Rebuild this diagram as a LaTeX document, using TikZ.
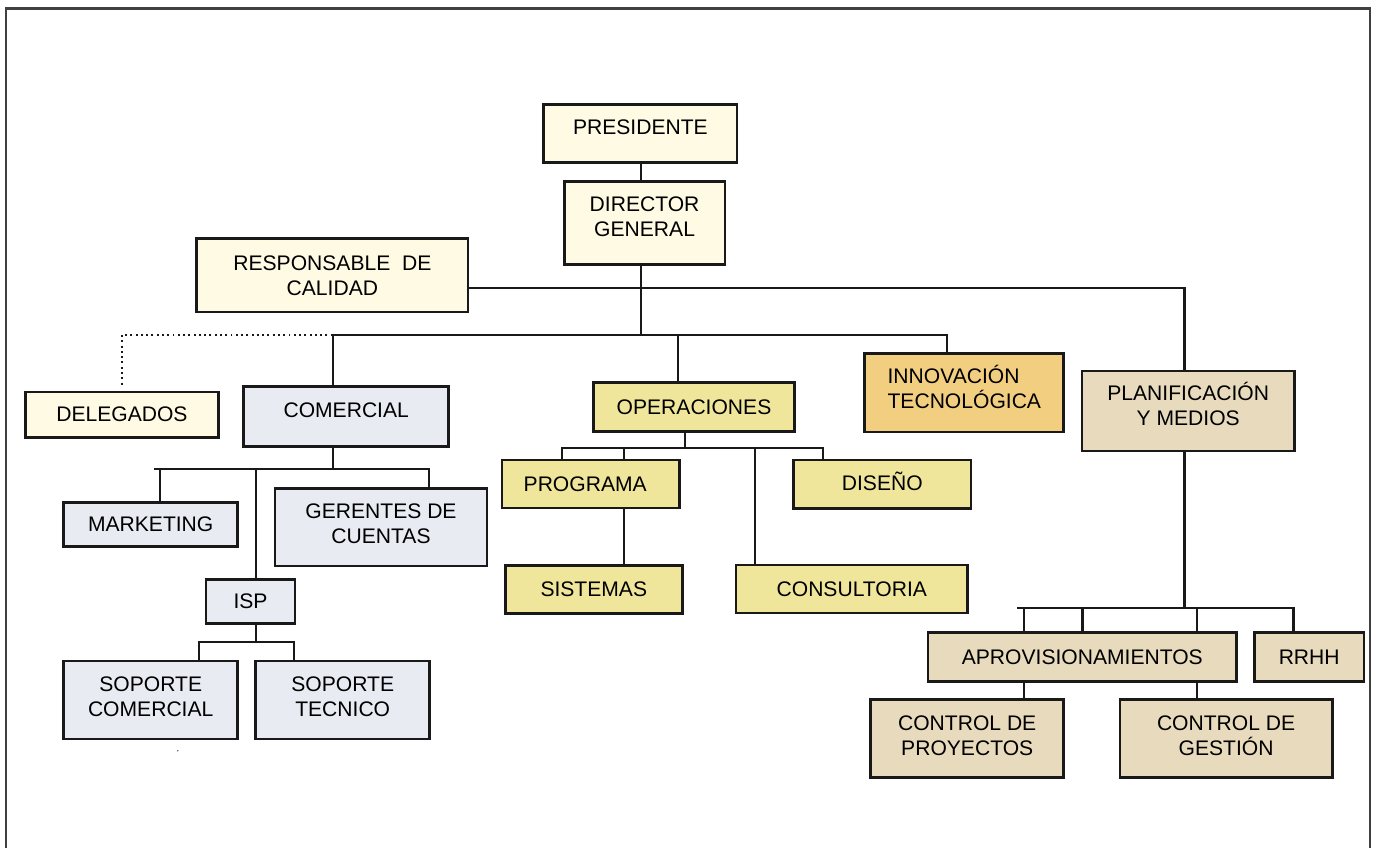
\documentclass[tikz,border=0pt]{standalone}
\usepackage{fontspec}
\setmainfont{Liberation Sans}
\definecolor{cream}{RGB}{255,250,228}
\definecolor{bluegray}{RGB}{232,235,242}
\definecolor{khaki}{RGB}{240,230,155}
\definecolor{ochre}{RGB}{242,206,128}
\definecolor{beige}{RGB}{232,218,188}
\newlength\unitpx
\setlength\unitpx{0.02cm}
% invisible depth that lifts a node's text above the box centre
\newcommand\lift[1]{\rule[-#1\unitpx]{0pt}{#1\unitpx}}
\begin{document}
\begin{tikzpicture}[x=0.02cm,y=-0.02cm,
  font=\fontsize{12}{14.2}\selectfont,
  box/.style n args={3}{draw=black!90, line width=1.6pt, fill=#3,
    minimum width=#1*0.02cm, minimum height=#2*0.02cm,
    inner sep=0pt, align=center},
  conn/.style={line width=1.2pt, draw=black!90, line cap=rect},
  dots/.style={line width=1.2pt, draw=black!90, dash pattern=on 1.1pt off 1.9pt},
  frame/.style={line width=1.2pt, draw=black!75}]

\useasboundingbox (0,0) rectangle (1378,848);

% open frame
\draw[frame] (6,848) -- (6,8.5) -- (1370,8.5) -- (1370,848);

% top management
\node[box={193.3}{58.4}{cream}] (pres) at (640.4,133.5) {PRESIDENTE\lift{12}};
\node[box={160.7}{83}{cream}] (dg) at (644.6,222.8) {DIRECTOR\\GENERAL\lift{12}};
\node[box={271}{73.3}{cream}] (resp) at (332.4,275.4) {RESPONSABLE\ \ DE\\CALIDAD};
\node[box={192.9}{45.3}{cream}] (deleg) at (121.9,414.7) {DELEGADOS};

% departments
\node[box={205}{60}{bluegray}] (comercial) at (346.2,416.7) {COMERCIAL\lift{14}};
\node[box={200.6}{49}{khaki}] (oper) at (694,407.2) {OPERACIONES};
\node[box={199}{78.3}{ochre}, align=left] (innov) at (964.3,392.9) {INNOVACIÓN\\TECNOLÓGICA\lift{12.8}};
\node[box={212.4}{80}{beige}] (planif) at (1188.2,411) {PLANIFICACIÓN\\Y MEDIOS\lift{13.8}};

% commercial area
\node[box={173.7}{44.4}{bluegray}] (mk) at (150.7,524.5) {MARKETING};
\node[box={212}{77.3}{bluegray}] (ger) at (381,527.4) {GERENTES DE\\CUENTAS\lift{6.6}};
\node[box={89}{44.4}{bluegray}] (isp) at (250.5,601.5) {ISP};
\node[box={173.7}{78}{bluegray}] (sc) at (150.7,700) {SOPORTE\\COMERCIAL\lift{6}};
\node[box={173.7}{78}{bluegray}] (st) at (342.7,700) {SOPORTE\\TECNICO\lift{6}};

% operations area
\node[box={177.3}{48}{khaki}] (prog) at (590.7,484) {PROGRAMA\rule{11\unitpx}{0pt}};
\node[box={177.5}{48.7}{khaki}] (dis) at (882.3,484.4) {DISEÑO\lift{6}};
\node[box={177}{48}{khaki}] (sis) at (593.8,589.3) {SISTEMAS};
\node[box={231.6}{48}{khaki}] (cons) at (851.8,589) {CONSULTORIA};

% planning area
\node[box={308.5}{48.6}{beige}] (aprov) at (1082.3,657) {APROVISIONAMIENTOS};
\node[box={109.5}{48.6}{beige}] (rrhh) at (1309.2,657) {RRHH};
\node[box={193.2}{77.6}{beige}] (cp) at (967.2,738.5) {CONTROL DE\\PROYECTOS\lift{6}};
\node[box={212.4}{77.6}{beige}] (cg) at (1226.1,738.5) {CONTROL DE\\GESTIÓN\lift{6}};

% junction points
\coordinate (jd) at (641.3,335);
\coordinate (jq) at (1184.5,288);
\coordinate (jc) at (332.6,335);
\coordinate (jo) at (678.3,335);
\coordinate (ji) at (947.2,335);
\coordinate (jdl) at (121.9,335);

\coordinate (cb) at (332.6,469.3);
\coordinate (cbl) at (155,469.3);
\coordinate (cbm) at (159.8,469.3);
\coordinate (cbi) at (255.8,469.3);
\coordinate (cbr) at (429,469.3);
\coordinate (ib) at (255.8,642);
\coordinate (ibl) at (198.7,642);
\coordinate (ibr) at (294.2,642);

\coordinate (ob) at (685.3,448.3);
\coordinate (obl) at (562,448.3);
\coordinate (obp) at (623.7,448.3);
\coordinate (obc) at (755.3,448.3);
\coordinate (obr) at (823.4,448.3);

\coordinate (pb) at (1184.5,607.7);
\coordinate (pbl) at (1018.4,607.7);
\coordinate (pb1) at (1024.2,607.7);
\coordinate (pb2) at (1082.5,607.7);
\coordinate (pb3) at (1197.4,607.7);
\coordinate (pbr) at (1293.5,607.7);

% top connectors
\draw[conn] (pres.south -| jd) -- (dg.north -| jd);
\draw[conn] (dg.south -| jd) -- (jd);
\draw[conn] (resp.east |- jq) -- (jq) -- (jq |- planif.north);
\draw[conn] (jc |- comercial.north) -- (jc) -- (ji) -- (ji |- innov.north);
\draw[conn] (jo) -- (jo |- oper.north);
\draw[dots, shorten >=2.3pt] (jc) -- (jdl) -- (deleg.north -| jdl);

% commercial connectors
\draw[conn] (comercial.south -| cb) -- (cb);
\draw[conn] (cbl) -- (cbr) -- (cbr |- ger.north);
\draw[conn] (cbm) -- (cbm |- mk.north);
\draw[conn] (cbi) -- (cbi |- isp.north);
\draw[conn] (isp.south -| ib) -- (ib);
\draw[conn] (ibl |- sc.north) -- (ibl) -- (ibr) -- (ibr |- st.north);

% operations connectors
\draw[conn] (oper.south -| ob) -- (ob);
\draw[conn] (obl |- prog.north) -- (obl) -- (obr) -- (obr |- dis.north);
\draw[conn] (obp) -- (obp |- prog.north);
\draw[conn] (obc) -- (obc |- cons.north);
\draw[conn] (prog.south -| obp) -- (sis.north -| obp);

% planning connectors
\draw[conn] (planif.south -| pb) -- (pb);
\draw[conn] (pbl) -- (pbr) -- (pbr |- rrhh.north);
\foreach \c in {pb1,pb2,pb3} \draw[conn] (\c) -- (\c |- aprov.north);
\draw[conn] (aprov.south -| pb1) -- (cp.north -| pb1);
\draw[conn] (aprov.south -| pb3) -- (cg.north -| pb3);

% small speck below the support boxes
\fill[black!60] (177.7,750.7) circle[radius=0.5pt];
\end{tikzpicture}
\end{document}
